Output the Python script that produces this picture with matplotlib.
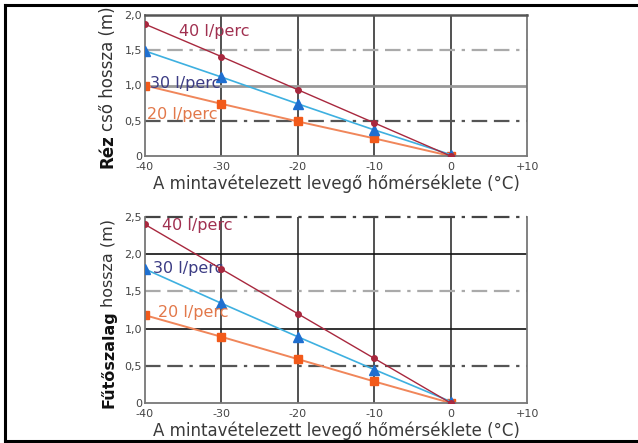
import matplotlib
matplotlib.use("Agg")
import matplotlib.pyplot as plt
from matplotlib.lines import Line2D

plt.rcParams['font.family'] = ['DejaVu Sans']

temps = [-40, -30, -20, -10, 0]
xticks = [-40, -30, -20, -10, 0, 10]
xticklabels = ['-40', '-30', '-20', '-10', '0', '+10']

# Réz cső (upper chart)
rez_40 = [1.87, 1.41, 0.94, 0.47, 0.0]
rez_30 = [1.49, 1.12, 0.74, 0.37, 0.02]
rez_20 = [1.00, 0.74, 0.49, 0.25, 0.0]
rez_yticks = [0, 0.5, 1.0, 1.5, 2.0]
rez_yticklabels = ['0', '0,5', '1,0', '1,5', '2,0']

# Fűtőszalag (lower chart)
fut_40 = [2.40, 1.80, 1.20, 0.60, 0.0]
fut_30 = [1.80, 1.34, 0.89, 0.45, 0.02]
fut_20 = [1.18, 0.89, 0.59, 0.29, 0.0]
fut_yticks = [0, 0.5, 1.0, 1.5, 2.0, 2.5]
fut_yticklabels = ['0', '0,5', '1,0', '1,5', '2,0', '2,5']

series_labels = ['40 l/perc', '30 l/perc', '20 l/perc']
xlabel = 'A mintavételezett levegő hőmérséklete (°C)'

c40 = '#a8283e'
c30_line = '#3eb0e0'
c30_mark = '#1f6fd0'
c20_line = '#f0865a'
c20_mark = '#f25a1a'
lab_colors = ['#a03050', '#3c3c84', '#e2784a']

dashdotdot = (0, (7, 3, 7, 3, 1.5, 3))

W, H = 638, 443
fig = plt.figure(figsize=(W / 100, H / 100), dpi=100)

# outer frame
fig.add_artist(Line2D([5 / W, 1], [1 - 5 / H] * 2, color='black', lw=2.2))
fig.add_artist(Line2D([5 / W, 1], [1 - 441 / H] * 2, color='black', lw=2.2))
fig.add_artist(Line2D([5 / W] * 2, [1 - 5 / H, 1 - 441 / H], color='black', lw=2.2))


def setup(ax, yticks, yticklabels, ymax):
    ax.set_xlim(-40, 10)
    ax.set_ylim(0, ymax)
    ax.set_xticks(xticks)
    ax.set_xticklabels(xticklabels)
    ax.set_yticks(yticks)
    ax.set_yticklabels(yticklabels)
    ax.tick_params(length=0, labelsize=8, labelcolor='#444444', pad=2)
    ax.tick_params(axis='x', pad=4)
    for s in ['left', 'bottom', 'right']:
        ax.spines[s].set_color('#777777')
        ax.spines[s].set_linewidth(1.3)
    for x in [-30, -20, -10, 0]:
        ax.axvline(x, color='#222222', lw=1.1, zorder=1)
    ax.set_xlabel(xlabel, fontsize=12, color='#3a3a3a', labelpad=2)


def draw(ax, s40, s30, s20):
    ax.plot(temps, s40, color=c40, lw=1.0, marker='o', ms=4, mfc=c40, mec=c40, zorder=4)
    ax.plot(temps, s30, color=c30_line, lw=1.2, marker='^', ms=6.5, mfc=c30_mark, mec=c30_mark, zorder=3)
    ax.plot(temps, s20, color=c20_line, lw=1.4, marker='s', ms=5.5, mfc=c20_mark, mec=c20_mark, zorder=2)


# upper chart
ax1 = fig.add_axes([145 / W, 1 - 156 / H, 382 / W, 141 / H])
setup(ax1, rez_yticks, rez_yticklabels, 2.0)
ax1.spines['top'].set_color('#555555')
ax1.spines['top'].set_linewidth(1.8)
ax1.axhline(1.0, color='#999999', lw=2.0, zorder=1)
ax1.axhline(1.5, color='#aaaaaa', lw=1.6, ls=dashdotdot, zorder=1)
ax1.axhline(0.5, color='#555555', lw=1.6, ls=dashdotdot, zorder=1)
draw(ax1, rez_40, rez_30, rez_20)
ax1.text(-35.6, 1.77, series_labels[0], color=lab_colors[0], fontsize=11.5, va='center')
ax1.text(-39.4, 1.03, series_labels[1], color=lab_colors[1], fontsize=11.5, va='center')
ax1.text(-39.7, 0.59, series_labels[2], color=lab_colors[2], fontsize=11.5, va='center')

# lower chart
ax2 = fig.add_axes([145 / W, 1 - 403 / H, 382 / W, 186 / H])
setup(ax2, fut_yticks, fut_yticklabels, 2.5)
ax2.spines['top'].set_visible(False)
ax2.axhline(2.5, color='#444444', lw=1.6, ls=dashdotdot, zorder=1, clip_on=False)
ax2.axhline(2.0, color='#111111', lw=1.2, zorder=1)
ax2.axhline(1.5, color='#aaaaaa', lw=1.6, ls=dashdotdot, zorder=1)
ax2.axhline(1.0, color='#111111', lw=1.2, zorder=1)
ax2.axhline(0.5, color='#555555', lw=1.6, ls=dashdotdot, zorder=1)
draw(ax2, fut_40, fut_30, fut_20)
ax2.text(-37.8, 2.38, series_labels[0], color=lab_colors[0], fontsize=11.5, va='center')
ax2.text(-38.9, 1.81, series_labels[1], color=lab_colors[1], fontsize=11.5, va='center')
ax2.text(-38.3, 1.22, series_labels[2], color=lab_colors[2], fontsize=11.5, va='center')

# y labels with bold first word
fig.canvas.draw()
renderer = fig.canvas.get_renderer()


def ylabel(bold, rest, x_px, ybot_px, size):
    t = fig.text(x_px / W, 1 - ybot_px / H, bold, rotation=90, fontsize=size,
                 fontweight='bold', ha='center', va='bottom', color='#111111')
    bb = t.get_window_extent(renderer)
    fig.text(x_px / W, (bb.y1 + 3) / H, rest, rotation=90, fontsize=size,
             ha='center', va='bottom', color='#333333')


ylabel('Réz', 'cső hossza (m)', 108, 168, 12)
ylabel('Fűtőszalag', 'hossza (m)', 108, 408, 11.5)

fig.savefig('out.png', dpi=100)
